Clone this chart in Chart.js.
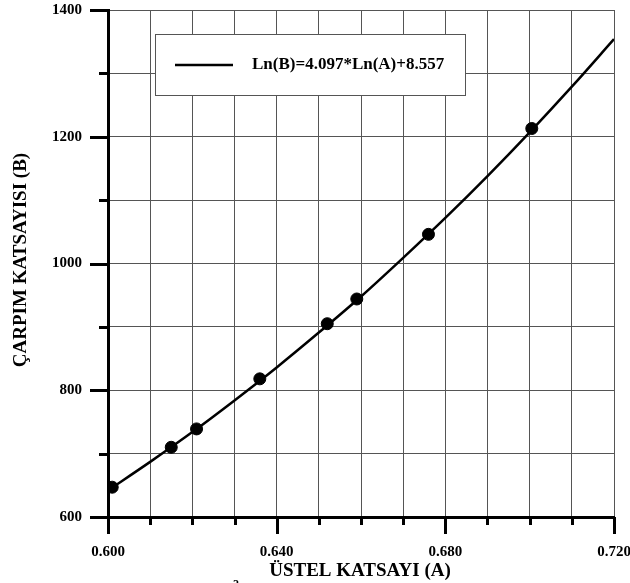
<!DOCTYPE html>
<html>
<head>
<meta charset="utf-8">
<script src="https://cdn.jsdelivr.net/npm/chart.js@4"></script>
<style>
  body { margin: 0; background: #fff; }
  canvas { display: block; }
</style>
</head>
<body>
<canvas id="chartCanvas" width="630" height="583"></canvas>
<script>
    // measured points
    var pointsA = [0.601, 0.615, 0.621, 0.636, 0.652, 0.659, 0.676, 0.7005]
    var pointsB = [647, 710, 739, 818, 905, 944, 1046, 1213]

    // fitted curve
    var curveA = [0.600, 0.610, 0.620, 0.630, 0.640, 0.650, 0.660, 0.670, 0.680, 0.690, 0.700, 0.710, 0.720]
    var curveB = [642, 687, 734, 784, 836, 891, 948, 1009, 1072, 1138, 1207, 1279, 1354]

    var legendLabel = 'Ln(B)=4.097*Ln(A)+8.557'
    var xTitle = 'ÜSTEL KATSAYI (A)'
    var yTitle = 'ÇARPIM KATSAYISI (B)'
    var xMajor = [0.600, 0.640, 0.680, 0.720]
    var yMajor = [600, 800, 1000, 1200, 1400]

    var serif = '"Liberation Serif", "Times New Roman", serif'

    function isMajor(list, v) {
        return list.some(function (m) { return Math.abs(m - v) < 1e-6 })
    }

    var decorations = {
        id: 'decorations',
        afterDraw: function (chart) {
            var ctx = chart.ctx
            var area = chart.chartArea
            var xs = chart.scales.x
            var ys = chart.scales.y
            ctx.save()

            // tick marks
            ctx.strokeStyle = '#000'
            ctx.lineWidth = 3
            ys.ticks.forEach(function (t) {
                var py = Math.round(ys.getPixelForValue(t.value)) + 0.5
                var len = isMajor(yMajor, t.value) ? 18 : 9
                ctx.beginPath()
                ctx.moveTo(area.left - len, py)
                ctx.lineTo(area.left, py)
                ctx.stroke()
            })
            xs.ticks.forEach(function (t) {
                var px = Math.round(xs.getPixelForValue(t.value)) + 0.5
                var len = isMajor(xMajor, t.value) ? 17 : 8
                ctx.beginPath()
                ctx.moveTo(px, area.bottom)
                ctx.lineTo(px, area.bottom + len)
                ctx.stroke()
            })

            // legend box
            var bx = 155, by = 34, bw = 310, bh = 61
            ctx.fillStyle = '#fff'
            ctx.fillRect(bx, by, bw, bh)
            ctx.strokeStyle = '#555'
            ctx.lineWidth = 1
            ctx.strokeRect(bx + 0.5, by + 0.5, bw, bh)
            ctx.strokeStyle = '#000'
            ctx.lineWidth = 2.5
            ctx.beginPath()
            ctx.moveTo(175, 65)
            ctx.lineTo(233, 65)
            ctx.stroke()
            ctx.fillStyle = '#000'
            ctx.font = 'bold 17px ' + serif
            ctx.textAlign = 'left'
            ctx.textBaseline = 'middle'
            ctx.fillText(legendLabel, 252, 65)

            // axis titles
            ctx.font = 'bold 19px ' + serif
            ctx.textAlign = 'center'
            ctx.fillText(xTitle, 360, 571)
            ctx.save()
            ctx.translate(21, 260)
            ctx.rotate(-Math.PI / 2)
            ctx.fillText(yTitle, 0, 0)
            ctx.restore()

            // stray superscript at the bottom edge
            ctx.font = 'bold 12px ' + serif
            ctx.fillText('2', 236, 585)
            ctx.restore()
        }
    }

    var ctx = document.getElementById('chartCanvas')
    var chart = new Chart(ctx, {
        data: {
            datasets: [{
                type: 'scatter',
                label: 'points',
                data: pointsA.map(function (a, i) { return { x: a, y: pointsB[i] } }),
                backgroundColor: '#000',
                borderColor: '#000',
                pointRadius: 6,
                showLine: false,
                order: 0
            }, {
                type: 'line',
                label: legendLabel,
                data: curveA.map(function (a, i) { return { x: a, y: curveB[i] } }),
                borderColor: '#000',
                borderWidth: 2.5,
                pointRadius: 0,
                cubicInterpolationMode: 'monotone',
                fill: false,
                order: 1
            }]
        },
        options: {
            responsive: false,
            animation: false,
            events: [],
            layout: { padding: { top: 10, right: 16, left: 0, bottom: 0 } },
            plugins: {
                legend: { display: false },
                tooltip: { enabled: false }
            },
            scales: {
                x: {
                    type: 'linear',
                    min: 0.6,
                    max: 0.72,
                    grid: { color: '#555', lineWidth: 1, drawTicks: false },
                    border: { display: true, color: '#000', width: 3 },
                    ticks: {
                        stepSize: 0.01,
                        padding: 26,
                        color: '#000',
                        font: { family: serif, size: 15, weight: 'bold' },
                        maxRotation: 0,
                        autoSkip: false,
                        callback: function (v) {
                            return isMajor(xMajor, v) ? v.toFixed(3) : ''
                        }
                    },
                    afterFit: function (scale) {
                        scale.height = 66
                        scale.paddingLeft = 0
                        scale.paddingRight = 0
                    }
                },
                y: {
                    type: 'linear',
                    min: 600,
                    max: 1400,
                    grid: { color: '#555', lineWidth: 1, drawTicks: false },
                    border: { display: true, color: '#000', width: 3 },
                    ticks: {
                        stepSize: 100,
                        padding: 26,
                        color: '#000',
                        font: { family: serif, size: 15, weight: 'bold' },
                        autoSkip: false,
                        callback: function (v) {
                            return isMajor(yMajor, v) ? String(v) : ''
                        }
                    },
                    afterFit: function (scale) {
                        scale.width = 108
                        scale.paddingTop = 0
                        scale.paddingBottom = 0
                    }
                }
            }
        },
        plugins: [decorations]
    })
</script>
</body>
</html>
